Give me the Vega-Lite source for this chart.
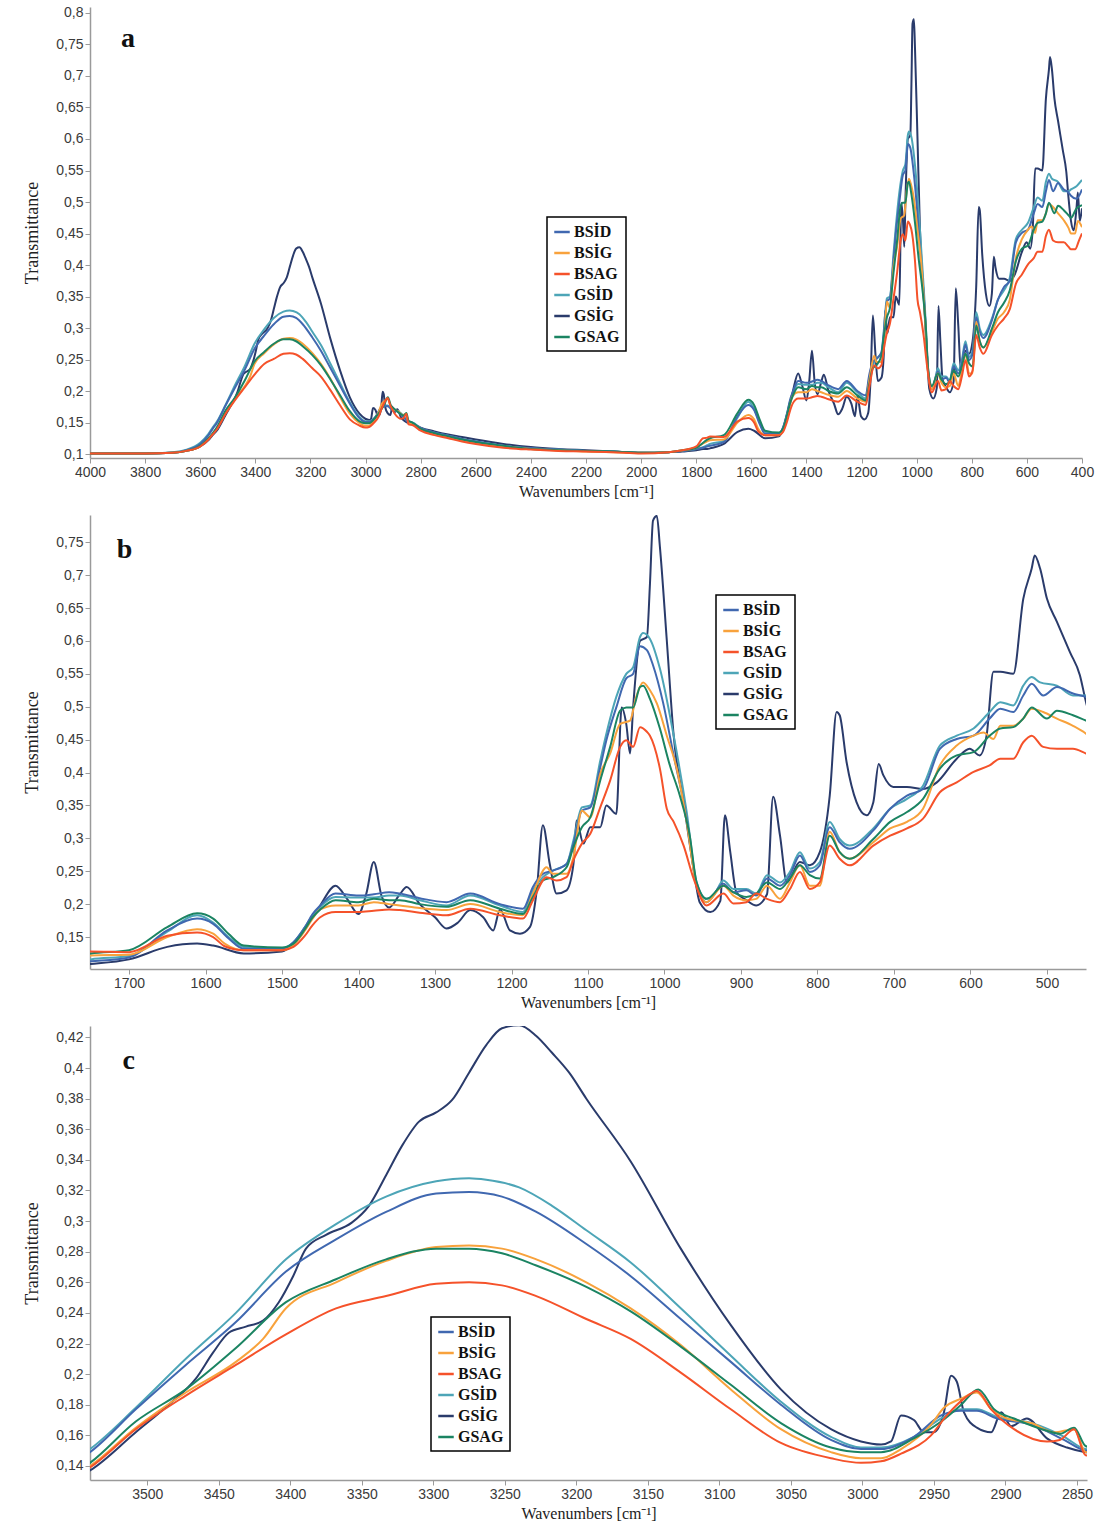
{
"$schema":"https://vega.github.io/schema/vega-lite/v6.json",
"padding":{"left":23,"top":5,"right":8,"bottom":4},
"spacing":16,
"config":{"view":{"stroke":null},
"axis":{"domainColor":"#9a9a9a","domainWidth":1.5,"tickColor":"#9a9a9a","tickSize":5,"labelFont":"Liberation Sans","labelFontSize":14,"labelColor":"#3a3a3a","labelPadding":2,"labelOverlap":false,"labelFlush":false,"titleFont":"Liberation Serif","titleFontWeight":"normal","titleColor":"#222","grid":false},
"axisX":{"titleFontSize":16,"titlePadding":4},
"axisY":{"titleFontSize":18,"titlePadding":14},
"legend":{"strokeColor":"#000","strokeWidth":1.5,"fillColor":"#fff","padding":6,"symbolType":"stroke","symbolStrokeWidth":2.5,"symbolSize":240,"labelFont":"Liberation Serif","labelFontWeight":"bold","labelFontSize":16,"labelColor":"#111","rowPadding":4,"labelOffset":3}},
"datasets":{"spectra":[
{"s":"GSİG","w":4000,"t":0.101},{"s":"GSİG","w":3900,"t":0.101},{"s":"GSİG","w":3800,"t":0.101},{"s":"GSİG","w":3700,"t":0.102},{"s":"GSİG","w":3650,"t":0.105},{"s":"GSİG","w":3600,"t":0.112},{"s":"GSİG","w":3570,"t":0.122},{"s":"GSİG","w":3555,"t":0.130},{"s":"GSİG","w":3540,"t":0.137},{"s":"GSİG","w":3508,"t":0.162},{"s":"GSİG","w":3485,"t":0.180},{"s":"GSİG","w":3466,"t":0.197},{"s":"GSİG","w":3454,"t":0.214},{"s":"GSİG","w":3443,"t":0.227},{"s":"GSİG","w":3431,"t":0.231},{"s":"GSİG","w":3419,"t":0.235},{"s":"GSİG","w":3408,"t":0.247},{"s":"GSİG","w":3398,"t":0.264},{"s":"GSİG","w":3389,"t":0.282},{"s":"GSİG","w":3375,"t":0.291},{"s":"GSİG","w":3357,"t":0.299},{"s":"GSİG","w":3345,"t":0.310},{"s":"GSİG","w":3333,"t":0.330},{"s":"GSİG","w":3322,"t":0.349},{"s":"GSİG","w":3310,"t":0.365},{"s":"GSİG","w":3298,"t":0.371},{"s":"GSİG","w":3287,"t":0.379},{"s":"GSİG","w":3275,"t":0.397},{"s":"GSİG","w":3263,"t":0.415},{"s":"GSİG","w":3252,"t":0.426},{"s":"GSİG","w":3240,"t":0.428},{"s":"GSİG","w":3228,"t":0.421},{"s":"GSİG","w":3217,"t":0.410},{"s":"GSİG","w":3205,"t":0.397},{"s":"GSİG","w":3193,"t":0.380},{"s":"GSİG","w":3162,"t":0.339},{"s":"GSİG","w":3127,"t":0.282},{"s":"GSİG","w":3092,"t":0.232},{"s":"GSİG","w":3057,"t":0.190},{"s":"GSİG","w":3022,"t":0.164},{"s":"GSİG","w":3001,"t":0.156},{"s":"GSİG","w":2987,"t":0.154},{"s":"GSİG","w":2980,"t":0.156},{"s":"GSİG","w":2973,"t":0.173},{"s":"GSİG","w":2964,"t":0.170},{"s":"GSİG","w":2957,"t":0.162},{"s":"GSİG","w":2950,"t":0.162},{"s":"GSİG","w":2943,"t":0.175},{"s":"GSİG","w":2938,"t":0.199},{"s":"GSİG","w":2934,"t":0.195},{"s":"GSİG","w":2929,"t":0.175},{"s":"GSİG","w":2920,"t":0.165},{"s":"GSİG","w":2910,"t":0.162},{"s":"GSİG","w":2903,"t":0.175},{"s":"GSİG","w":2896,"t":0.166},{"s":"GSİG","w":2885,"t":0.171},{"s":"GSİG","w":2871,"t":0.158},{"s":"GSİG","w":2857,"t":0.152},{"s":"GSİG","w":2844,"t":0.149},{"s":"GSİG","w":2830,"t":0.148},{"s":"GSİG","w":2800,"t":0.142},{"s":"GSİG","w":2750,"t":0.136},{"s":"GSİG","w":2700,"t":0.131},{"s":"GSİG","w":2650,"t":0.127},{"s":"GSİG","w":2600,"t":0.123},{"s":"GSİG","w":2500,"t":0.116},{"s":"GSİG","w":2400,"t":0.111},{"s":"GSİG","w":2300,"t":0.108},{"s":"GSİG","w":2200,"t":0.106},{"s":"GSİG","w":2100,"t":0.104},{"s":"GSİG","w":2000,"t":0.102},{"s":"GSİG","w":1900,"t":0.103},{"s":"GSİG","w":1850,"t":0.104},{"s":"GSİG","w":1800,"t":0.106},{"s":"GSİG","w":1775,"t":0.108},{"s":"GSİG","w":1760,"t":0.108},
{"s":"GSİG","w":1750,"t":0.109},{"s":"GSİG","w":1700,"t":0.116},{"s":"GSİG","w":1650,"t":0.135},{"s":"GSİG","w":1611,"t":0.140},{"s":"GSİG","w":1590,"t":0.137},{"s":"GSİG","w":1550,"t":0.125},{"s":"GSİG","w":1500,"t":0.128},{"s":"GSİG","w":1485,"t":0.140},{"s":"GSİG","w":1470,"t":0.163},{"s":"GSİG","w":1460,"t":0.180},{"s":"GSİG","w":1450,"t":0.198},{"s":"GSİG","w":1430,"t":0.228},{"s":"GSİG","w":1415,"t":0.208},{"s":"GSİG","w":1400,"t":0.185},{"s":"GSİG","w":1390,"t":0.215},{"s":"GSİG","w":1380,"t":0.264},{"s":"GSİG","w":1370,"t":0.213},{"s":"GSİG","w":1360,"t":0.195},{"s":"GSİG","w":1346,"t":0.215},{"s":"GSİG","w":1337,"t":0.226},{"s":"GSİG","w":1320,"t":0.200},{"s":"GSİG","w":1300,"t":0.180},{"s":"GSİG","w":1285,"t":0.163},{"s":"GSİG","w":1270,"t":0.172},{"s":"GSİG","w":1254,"t":0.191},{"s":"GSİG","w":1237,"t":0.180},{"s":"GSİG","w":1224,"t":0.160},{"s":"GSİG","w":1215,"t":0.192},{"s":"GSİG","w":1202,"t":0.160},{"s":"GSİG","w":1189,"t":0.155},{"s":"GSİG","w":1176,"t":0.165},{"s":"GSİG","w":1167,"t":0.221},{"s":"GSİG","w":1159,"t":0.320},{"s":"GSİG","w":1150,"t":0.261},{"s":"GSİG","w":1141,"t":0.216},{"s":"GSİG","w":1128,"t":0.221},{"s":"GSİG","w":1119,"t":0.261},{"s":"GSİG","w":1115,"t":0.327},{"s":"GSİG","w":1106,"t":0.292},{"s":"GSİG","w":1097,"t":0.317},{"s":"GSİG","w":1084,"t":0.317},{"s":"GSİG","w":1076,"t":0.350},{"s":"GSİG","w":1063,"t":0.337},{"s":"GSİG","w":1056,"t":0.499},{"s":"GSİG","w":1050,"t":0.474},{"s":"GSİG","w":1045,"t":0.429},{"s":"GSİG","w":1041,"t":0.499},{"s":"GSİG","w":1032,"t":0.600},{"s":"GSİG","w":1023,"t":0.606},{"s":"GSİG","w":1019,"t":0.687},{"s":"GSİG","w":1015,"t":0.783},{"s":"GSİG","w":1010,"t":0.790},{"s":"GSİG","w":1006,"t":0.743},{"s":"GSİG","w":997,"t":0.601},{"s":"GSİG","w":988,"t":0.456},{"s":"GSİG","w":975,"t":0.355},{"s":"GSİG","w":962,"t":0.254},{"s":"GSİG","w":954,"t":0.203},{"s":"GSİG","w":940,"t":0.188},{"s":"GSİG","w":927,"t":0.205},{"s":"GSİG","w":921,"t":0.335},{"s":"GSİG","w":914,"t":0.279},{"s":"GSİG","w":906,"t":0.218},{"s":"GSİG","w":893,"t":0.206},{"s":"GSİG","w":880,"t":0.198},{"s":"GSİG","w":866,"t":0.215},{"s":"GSİG","w":858,"t":0.363},{"s":"GSİG","w":849,"t":0.304},{"s":"GSİG","w":840,"t":0.233},{"s":"GSİG","w":823,"t":0.264},{"s":"GSİG","w":810,"t":0.259},{"s":"GSİG","w":797,"t":0.279},{"s":"GSİG","w":784,"t":0.365},{"s":"GSİG","w":775,"t":0.492},{"s":"GSİG","w":771,"t":0.487},{"s":"GSİG","w":762,"t":0.416},{"s":"GSİG","w":749,"t":0.355},{"s":"GSİG","w":736,"t":0.335},{"s":"GSİG","w":727,"t":0.355},{"s":"GSİG","w":720,"t":0.413},{"s":"GSİG","w":714,"t":0.396},{"s":"GSİG","w":701,"t":0.378},{"s":"GSİG","w":683,"t":0.378},{"s":"GSİG","w":662,"t":0.375},{"s":"GSİG","w":644,"t":0.385},{"s":"GSİG","w":618,"t":0.421},{"s":"GSİG","w":601,"t":0.436},{"s":"GSİG","w":588,"t":0.426},{"s":"GSİG","w":579,"t":0.456},{"s":"GSİG","w":570,"t":0.553},{"s":"GSİG","w":561,"t":0.553},{"s":"GSİG","w":544,"t":0.550},{"s":"GSİG","w":531,"t":0.664},{"s":"GSİG","w":520,"t":0.710},{"s":"GSİG","w":516,"t":0.730},{"s":"GSİG","w":509,"t":0.710},{"s":"GSİG","w":500,"t":0.664},{"s":"GSİG","w":487,"t":0.629},{"s":"GSİG","w":470,"t":0.583},{"s":"GSİG","w":457,"t":0.548},{"s":"GSİG","w":449,"t":0.507},{"s":"GSİG","w":440,"t":0.470},{"s":"GSİG","w":430,"t":0.455},{"s":"GSİG","w":420,"t":0.490},{"s":"GSİG","w":415,"t":0.515},{"s":"GSİG","w":408,"t":0.470},{"s":"GSİG","w":400,"t":0.490},

{"s":"GSİD","w":4000,"t":0.101},{"s":"GSİD","w":3900,"t":0.101},{"s":"GSİD","w":3800,"t":0.101},{"s":"GSİD","w":3700,"t":0.103},{"s":"GSİD","w":3650,"t":0.107},{"s":"GSİD","w":3600,"t":0.118},{"s":"GSİD","w":3570,"t":0.132},{"s":"GSİD","w":3555,"t":0.142},{"s":"GSİD","w":3540,"t":0.151},{"s":"GSİD","w":3508,"t":0.178},{"s":"GSİD","w":3473,"t":0.210},{"s":"GSİD","w":3438,"t":0.240},{"s":"GSİD","w":3403,"t":0.275},{"s":"GSİD","w":3368,"t":0.298},{"s":"GSİD","w":3333,"t":0.316},{"s":"GSİD","w":3298,"t":0.326},{"s":"GSİD","w":3275,"t":0.328},{"s":"GSİD","w":3263,"t":0.327},{"s":"GSİD","w":3240,"t":0.322},{"s":"GSİD","w":3217,"t":0.310},{"s":"GSİD","w":3193,"t":0.294},{"s":"GSİD","w":3162,"t":0.273},{"s":"GSİD","w":3127,"t":0.243},{"s":"GSİD","w":3092,"t":0.212},{"s":"GSİD","w":3057,"t":0.182},{"s":"GSİD","w":3022,"t":0.159},{"s":"GSİD","w":3001,"t":0.152},{"s":"GSİD","w":2987,"t":0.152},{"s":"GSİD","w":2964,"t":0.159},{"s":"GSİD","w":2945,"t":0.171},{"s":"GSİD","w":2931,"t":0.177},{"s":"GSİD","w":2920,"t":0.177},{"s":"GSİD","w":2906,"t":0.172},{"s":"GSİD","w":2882,"t":0.168},{"s":"GSİD","w":2859,"t":0.159},{"s":"GSİD","w":2844,"t":0.151},{"s":"GSİD","w":2830,"t":0.150},{"s":"GSİD","w":2800,"t":0.141},{"s":"GSİD","w":2750,"t":0.134},{"s":"GSİD","w":2700,"t":0.129},{"s":"GSİD","w":2650,"t":0.124},{"s":"GSİD","w":2600,"t":0.120},{"s":"GSİD","w":2500,"t":0.113},{"s":"GSİD","w":2400,"t":0.109},{"s":"GSİD","w":2300,"t":0.107},{"s":"GSİD","w":2200,"t":0.105},{"s":"GSİD","w":2100,"t":0.104},{"s":"GSİD","w":2000,"t":0.102},{"s":"GSİD","w":1900,"t":0.103},{"s":"GSİD","w":1850,"t":0.105},{"s":"GSİD","w":1800,"t":0.108},{"s":"GSİD","w":1775,"t":0.111},{"s":"GSİD","w":1760,"t":0.114},
{"s":"GSİD","w":1750,"t":0.116},{"s":"GSİD","w":1700,"t":0.121},{"s":"GSİD","w":1650,"t":0.158},{"s":"GSİD","w":1611,"t":0.183},{"s":"GSİD","w":1590,"t":0.172},{"s":"GSİD","w":1570,"t":0.150},{"s":"GSİD","w":1550,"t":0.135},{"s":"GSİD","w":1500,"t":0.133},{"s":"GSİD","w":1485,"t":0.142},{"s":"GSİD","w":1470,"t":0.165},{"s":"GSİD","w":1460,"t":0.183},{"s":"GSİD","w":1450,"t":0.196},{"s":"GSİD","w":1430,"t":0.211},{"s":"GSİD","w":1400,"t":0.210},{"s":"GSİD","w":1380,"t":0.210},{"s":"GSİD","w":1360,"t":0.213},{"s":"GSİD","w":1346,"t":0.213},{"s":"GSİD","w":1320,"t":0.206},{"s":"GSİD","w":1285,"t":0.198},{"s":"GSİD","w":1254,"t":0.213},{"s":"GSİD","w":1215,"t":0.198},{"s":"GSİD","w":1185,"t":0.188},{"s":"GSİD","w":1172,"t":0.221},{"s":"GSİD","w":1159,"t":0.241},{"s":"GSİD","w":1146,"t":0.251},{"s":"GSİD","w":1128,"t":0.261},{"s":"GSİD","w":1119,"t":0.297},{"s":"GSİD","w":1108,"t":0.347},{"s":"GSİD","w":1097,"t":0.350},{"s":"GSİD","w":1084,"t":0.418},{"s":"GSİD","w":1076,"t":0.459},{"s":"GSİD","w":1063,"t":0.515},{"s":"GSİD","w":1050,"t":0.550},{"s":"GSİD","w":1041,"t":0.560},{"s":"GSİD","w":1032,"t":0.606},{"s":"GSİD","w":1028,"t":0.612},{"s":"GSİD","w":1019,"t":0.603},{"s":"GSİD","w":1006,"t":0.558},{"s":"GSİD","w":988,"t":0.456},{"s":"GSİD","w":971,"t":0.340},{"s":"GSİD","w":958,"t":0.233},{"s":"GSİD","w":945,"t":0.208},{"s":"GSİD","w":936,"t":0.213},{"s":"GSİD","w":923,"t":0.236},{"s":"GSİD","w":910,"t":0.223},{"s":"GSİD","w":893,"t":0.223},{"s":"GSİD","w":880,"t":0.216},{"s":"GSİD","w":866,"t":0.244},{"s":"GSİD","w":849,"t":0.233},{"s":"GSİD","w":836,"t":0.249},{"s":"GSİD","w":823,"t":0.279},{"s":"GSİD","w":810,"t":0.254},{"s":"GSİD","w":797,"t":0.264},{"s":"GSİD","w":784,"t":0.325},{"s":"GSİD","w":771,"t":0.299},{"s":"GSİD","w":758,"t":0.289},{"s":"GSİD","w":727,"t":0.315},{"s":"GSİD","w":705,"t":0.345},{"s":"GSİD","w":683,"t":0.360},{"s":"GSİD","w":662,"t":0.380},{"s":"GSİD","w":640,"t":0.441},{"s":"GSİD","w":618,"t":0.456},{"s":"GSİD","w":596,"t":0.467},{"s":"GSİD","w":575,"t":0.492},{"s":"GSİD","w":561,"t":0.507},{"s":"GSİD","w":544,"t":0.502},{"s":"GSİD","w":531,"t":0.532},{"s":"GSİD","w":520,"t":0.545},{"s":"GSİD","w":509,"t":0.537},{"s":"GSİD","w":487,"t":0.532},{"s":"GSİD","w":466,"t":0.517},{"s":"GSİD","w":449,"t":0.517},{"s":"GSİD","w":440,"t":0.520},{"s":"GSİD","w":420,"t":0.525},{"s":"GSİD","w":400,"t":0.535},

{"s":"BSİD","w":4000,"t":0.101},{"s":"BSİD","w":3900,"t":0.101},{"s":"BSİD","w":3800,"t":0.101},{"s":"BSİD","w":3700,"t":0.102},{"s":"BSİD","w":3650,"t":0.106},{"s":"BSİD","w":3600,"t":0.116},{"s":"BSİD","w":3570,"t":0.130},{"s":"BSİD","w":3555,"t":0.140},{"s":"BSİD","w":3540,"t":0.149},{"s":"BSİD","w":3508,"t":0.177},{"s":"BSİD","w":3473,"t":0.206},{"s":"BSİD","w":3438,"t":0.234},{"s":"BSİD","w":3403,"t":0.267},{"s":"BSİD","w":3368,"t":0.288},{"s":"BSİD","w":3333,"t":0.306},{"s":"BSİD","w":3298,"t":0.318},{"s":"BSİD","w":3275,"t":0.319},{"s":"BSİD","w":3252,"t":0.316},{"s":"BSİD","w":3228,"t":0.306},{"s":"BSİD","w":3193,"t":0.285},{"s":"BSİD","w":3162,"t":0.264},{"s":"BSİD","w":3127,"t":0.236},{"s":"BSİD","w":3092,"t":0.208},{"s":"BSİD","w":3057,"t":0.180},{"s":"BSİD","w":3022,"t":0.157},{"s":"BSİD","w":3001,"t":0.151},{"s":"BSİD","w":2987,"t":0.151},{"s":"BSİD","w":2964,"t":0.159},{"s":"BSİD","w":2945,"t":0.173},{"s":"BSİD","w":2931,"t":0.176},{"s":"BSİD","w":2920,"t":0.176},{"s":"BSİD","w":2906,"t":0.171},{"s":"BSİD","w":2882,"t":0.167},{"s":"BSİD","w":2859,"t":0.157},{"s":"BSİD","w":2844,"t":0.150},{"s":"BSİD","w":2830,"t":0.149},{"s":"BSİD","w":2800,"t":0.141},{"s":"BSİD","w":2750,"t":0.134},{"s":"BSİD","w":2700,"t":0.129},{"s":"BSİD","w":2650,"t":0.124},{"s":"BSİD","w":2600,"t":0.120},{"s":"BSİD","w":2500,"t":0.113},{"s":"BSİD","w":2400,"t":0.109},{"s":"BSİD","w":2300,"t":0.107},{"s":"BSİD","w":2200,"t":0.105},{"s":"BSİD","w":2100,"t":0.104},{"s":"BSİD","w":2000,"t":0.102},{"s":"BSİD","w":1900,"t":0.103},{"s":"BSİD","w":1850,"t":0.105},{"s":"BSİD","w":1800,"t":0.108},{"s":"BSİD","w":1775,"t":0.110},{"s":"BSİD","w":1760,"t":0.112},
{"s":"BSİD","w":1750,"t":0.113},{"s":"BSİD","w":1700,"t":0.119},{"s":"BSİD","w":1650,"t":0.160},{"s":"BSİD","w":1611,"t":0.178},{"s":"BSİD","w":1590,"t":0.170},{"s":"BSİD","w":1570,"t":0.148},{"s":"BSİD","w":1550,"t":0.132},{"s":"BSİD","w":1500,"t":0.132},{"s":"BSİD","w":1485,"t":0.142},{"s":"BSİD","w":1470,"t":0.165},{"s":"BSİD","w":1460,"t":0.185},{"s":"BSİD","w":1450,"t":0.198},{"s":"BSİD","w":1430,"t":0.216},{"s":"BSİD","w":1400,"t":0.213},{"s":"BSİD","w":1380,"t":0.215},{"s":"BSİD","w":1360,"t":0.218},{"s":"BSİD","w":1346,"t":0.216},{"s":"BSİD","w":1320,"t":0.209},{"s":"BSİD","w":1285,"t":0.203},{"s":"BSİD","w":1254,"t":0.216},{"s":"BSİD","w":1215,"t":0.200},{"s":"BSİD","w":1185,"t":0.193},{"s":"BSİD","w":1172,"t":0.226},{"s":"BSİD","w":1159,"t":0.246},{"s":"BSİD","w":1146,"t":0.251},{"s":"BSİD","w":1128,"t":0.261},{"s":"BSİD","w":1119,"t":0.292},{"s":"BSİD","w":1108,"t":0.342},{"s":"BSİD","w":1097,"t":0.347},{"s":"BSİD","w":1084,"t":0.408},{"s":"BSİD","w":1076,"t":0.449},{"s":"BSİD","w":1063,"t":0.499},{"s":"BSİD","w":1050,"t":0.543},{"s":"BSİD","w":1041,"t":0.550},{"s":"BSİD","w":1032,"t":0.592},{"s":"BSİD","w":1023,"t":0.586},{"s":"BSİD","w":1015,"t":0.563},{"s":"BSİD","w":1002,"t":0.507},{"s":"BSİD","w":988,"t":0.426},{"s":"BSİD","w":971,"t":0.330},{"s":"BSİD","w":958,"t":0.228},{"s":"BSİD","w":945,"t":0.203},{"s":"BSİD","w":923,"t":0.231},{"s":"BSİD","w":910,"t":0.218},{"s":"BSİD","w":893,"t":0.221},{"s":"BSİD","w":880,"t":0.213},{"s":"BSİD","w":866,"t":0.239},{"s":"BSİD","w":849,"t":0.228},{"s":"BSİD","w":836,"t":0.244},{"s":"BSİD","w":823,"t":0.274},{"s":"BSİD","w":810,"t":0.249},{"s":"BSİD","w":797,"t":0.259},{"s":"BSİD","w":784,"t":0.317},{"s":"BSİD","w":771,"t":0.294},{"s":"BSİD","w":758,"t":0.284},{"s":"BSİD","w":727,"t":0.312},{"s":"BSİD","w":705,"t":0.345},{"s":"BSİD","w":683,"t":0.365},{"s":"BSİD","w":662,"t":0.375},{"s":"BSİD","w":640,"t":0.436},{"s":"BSİD","w":618,"t":0.451},{"s":"BSİD","w":596,"t":0.456},{"s":"BSİD","w":575,"t":0.482},{"s":"BSİD","w":561,"t":0.497},{"s":"BSİD","w":544,"t":0.492},{"s":"BSİD","w":531,"t":0.517},{"s":"BSİD","w":520,"t":0.535},{"s":"BSİD","w":505,"t":0.517},{"s":"BSİD","w":487,"t":0.530},{"s":"BSİD","w":466,"t":0.520},{"s":"BSİD","w":449,"t":0.515},{"s":"BSİD","w":440,"t":0.510},{"s":"BSİD","w":420,"t":0.505},{"s":"BSİD","w":400,"t":0.520},

{"s":"BSİG","w":4000,"t":0.101},{"s":"BSİG","w":3900,"t":0.101},{"s":"BSİG","w":3800,"t":0.101},{"s":"BSİG","w":3700,"t":0.102},{"s":"BSİG","w":3650,"t":0.105},{"s":"BSİG","w":3600,"t":0.112},{"s":"BSİG","w":3570,"t":0.124},{"s":"BSİG","w":3555,"t":0.132},{"s":"BSİG","w":3540,"t":0.140},{"s":"BSİG","w":3508,"t":0.165},{"s":"BSİG","w":3473,"t":0.188},{"s":"BSİG","w":3438,"t":0.208},{"s":"BSİG","w":3419,"t":0.223},{"s":"BSİG","w":3403,"t":0.243},{"s":"BSİG","w":3368,"t":0.260},{"s":"BSİG","w":3333,"t":0.274},{"s":"BSİG","w":3298,"t":0.283},{"s":"BSİG","w":3275,"t":0.284},{"s":"BSİG","w":3252,"t":0.282},{"s":"BSİG","w":3228,"t":0.275},{"s":"BSİG","w":3193,"t":0.260},{"s":"BSİG","w":3162,"t":0.243},{"s":"BSİG","w":3127,"t":0.219},{"s":"BSİG","w":3092,"t":0.190},{"s":"BSİG","w":3057,"t":0.164},{"s":"BSİG","w":3022,"t":0.149},{"s":"BSİG","w":3001,"t":0.145},{"s":"BSİG","w":2987,"t":0.145},{"s":"BSİG","w":2973,"t":0.151},{"s":"BSİG","w":2952,"t":0.167},{"s":"BSİG","w":2943,"t":0.178},{"s":"BSİG","w":2931,"t":0.184},{"s":"BSİG","w":2920,"t":0.188},{"s":"BSİG","w":2910,"t":0.177},{"s":"BSİG","w":2899,"t":0.171},{"s":"BSİG","w":2882,"t":0.168},{"s":"BSİG","w":2866,"t":0.162},{"s":"BSİG","w":2852,"t":0.164},{"s":"BSİG","w":2844,"t":0.149},{"s":"BSİG","w":2830,"t":0.148},{"s":"BSİG","w":2800,"t":0.139},{"s":"BSİG","w":2750,"t":0.132},{"s":"BSİG","w":2700,"t":0.127},{"s":"BSİG","w":2650,"t":0.122},{"s":"BSİG","w":2600,"t":0.118},{"s":"BSİG","w":2500,"t":0.112},{"s":"BSİG","w":2400,"t":0.108},{"s":"BSİG","w":2300,"t":0.106},{"s":"BSİG","w":2200,"t":0.104},{"s":"BSİG","w":2100,"t":0.103},{"s":"BSİG","w":2000,"t":0.102},{"s":"BSİG","w":1900,"t":0.103},{"s":"BSİG","w":1850,"t":0.106},{"s":"BSİG","w":1800,"t":0.110},{"s":"BSİG","w":1775,"t":0.117},{"s":"BSİG","w":1760,"t":0.120},
{"s":"BSİG","w":1750,"t":0.122},{"s":"BSİG","w":1700,"t":0.123},{"s":"BSİG","w":1650,"t":0.150},{"s":"BSİG","w":1611,"t":0.162},{"s":"BSİG","w":1590,"t":0.155},{"s":"BSİG","w":1575,"t":0.140},{"s":"BSİG","w":1550,"t":0.130},{"s":"BSİG","w":1500,"t":0.130},{"s":"BSİG","w":1485,"t":0.138},{"s":"BSİG","w":1470,"t":0.160},{"s":"BSİG","w":1460,"t":0.178},{"s":"BSİG","w":1450,"t":0.192},{"s":"BSİG","w":1430,"t":0.198},{"s":"BSİG","w":1400,"t":0.198},{"s":"BSİG","w":1380,"t":0.203},{"s":"BSİG","w":1360,"t":0.200},{"s":"BSİG","w":1346,"t":0.198},{"s":"BSİG","w":1320,"t":0.194},{"s":"BSİG","w":1285,"t":0.191},{"s":"BSİG","w":1254,"t":0.200},{"s":"BSİG","w":1215,"t":0.188},{"s":"BSİG","w":1185,"t":0.183},{"s":"BSİG","w":1172,"t":0.216},{"s":"BSİG","w":1154,"t":0.256},{"s":"BSİG","w":1146,"t":0.246},{"s":"BSİG","w":1128,"t":0.246},{"s":"BSİG","w":1119,"t":0.272},{"s":"BSİG","w":1108,"t":0.342},{"s":"BSİG","w":1097,"t":0.332},{"s":"BSİG","w":1084,"t":0.398},{"s":"BSİG","w":1071,"t":0.429},{"s":"BSİG","w":1058,"t":0.474},{"s":"BSİG","w":1045,"t":0.479},{"s":"BSİG","w":1037,"t":0.515},{"s":"BSİG","w":1028,"t":0.537},{"s":"BSİG","w":1019,"t":0.525},{"s":"BSİG","w":1010,"t":0.505},{"s":"BSİG","w":997,"t":0.456},{"s":"BSİG","w":984,"t":0.406},{"s":"BSİG","w":971,"t":0.325},{"s":"BSİG","w":958,"t":0.228},{"s":"BSİG","w":945,"t":0.203},{"s":"BSİG","w":923,"t":0.228},{"s":"BSİG","w":910,"t":0.213},{"s":"BSİG","w":893,"t":0.206},{"s":"BSİG","w":880,"t":0.208},{"s":"BSİG","w":866,"t":0.228},{"s":"BSİG","w":849,"t":0.208},{"s":"BSİG","w":836,"t":0.233},{"s":"BSİG","w":823,"t":0.259},{"s":"BSİG","w":810,"t":0.228},{"s":"BSİG","w":797,"t":0.228},{"s":"BSİG","w":784,"t":0.310},{"s":"BSİG","w":771,"t":0.279},{"s":"BSİG","w":758,"t":0.269},{"s":"BSİG","w":727,"t":0.294},{"s":"BSİG","w":705,"t":0.315},{"s":"BSİG","w":683,"t":0.325},{"s":"BSİG","w":662,"t":0.345},{"s":"BSİG","w":640,"t":0.411},{"s":"BSİG","w":618,"t":0.441},{"s":"BSİG","w":596,"t":0.456},{"s":"BSİG","w":583,"t":0.461},{"s":"BSİG","w":570,"t":0.451},{"s":"BSİG","w":561,"t":0.471},{"s":"BSİG","w":544,"t":0.471},{"s":"BSİG","w":531,"t":0.482},{"s":"BSİG","w":520,"t":0.497},{"s":"BSİG","w":505,"t":0.492},{"s":"BSİG","w":487,"t":0.482},{"s":"BSİG","w":466,"t":0.471},{"s":"BSİG","w":449,"t":0.459},{"s":"BSİG","w":440,"t":0.450},{"s":"BSİG","w":425,"t":0.450},{"s":"BSİG","w":415,"t":0.470},{"s":"BSİG","w":400,"t":0.460},

{"s":"GSAG","w":4000,"t":0.101},{"s":"GSAG","w":3900,"t":0.101},{"s":"GSAG","w":3800,"t":0.101},{"s":"GSAG","w":3700,"t":0.102},{"s":"GSAG","w":3650,"t":0.105},{"s":"GSAG","w":3600,"t":0.113},{"s":"GSAG","w":3570,"t":0.125},{"s":"GSAG","w":3555,"t":0.133},{"s":"GSAG","w":3540,"t":0.142},{"s":"GSAG","w":3508,"t":0.169},{"s":"GSAG","w":3473,"t":0.190},{"s":"GSAG","w":3438,"t":0.217},{"s":"GSAG","w":3403,"t":0.247},{"s":"GSAG","w":3368,"t":0.262},{"s":"GSAG","w":3333,"t":0.275},{"s":"GSAG","w":3298,"t":0.282},{"s":"GSAG","w":3275,"t":0.282},{"s":"GSAG","w":3252,"t":0.279},{"s":"GSAG","w":3228,"t":0.271},{"s":"GSAG","w":3193,"t":0.257},{"s":"GSAG","w":3162,"t":0.241},{"s":"GSAG","w":3127,"t":0.218},{"s":"GSAG","w":3092,"t":0.193},{"s":"GSAG","w":3057,"t":0.168},{"s":"GSAG","w":3022,"t":0.152},{"s":"GSAG","w":3001,"t":0.149},{"s":"GSAG","w":2987,"t":0.149},{"s":"GSAG","w":2964,"t":0.158},{"s":"GSAG","w":2945,"t":0.169},{"s":"GSAG","w":2931,"t":0.180},{"s":"GSAG","w":2919,"t":0.190},{"s":"GSAG","w":2908,"t":0.177},{"s":"GSAG","w":2894,"t":0.171},{"s":"GSAG","w":2871,"t":0.163},{"s":"GSAG","w":2862,"t":0.161},{"s":"GSAG","w":2852,"t":0.165},{"s":"GSAG","w":2844,"t":0.153},{"s":"GSAG","w":2830,"t":0.150},{"s":"GSAG","w":2800,"t":0.140},{"s":"GSAG","w":2750,"t":0.133},{"s":"GSAG","w":2700,"t":0.128},{"s":"GSAG","w":2650,"t":0.123},{"s":"GSAG","w":2600,"t":0.119},{"s":"GSAG","w":2500,"t":0.113},{"s":"GSAG","w":2400,"t":0.108},{"s":"GSAG","w":2300,"t":0.106},{"s":"GSAG","w":2200,"t":0.105},{"s":"GSAG","w":2100,"t":0.104},{"s":"GSAG","w":2000,"t":0.102},{"s":"GSAG","w":1900,"t":0.103},{"s":"GSAG","w":1850,"t":0.106},{"s":"GSAG","w":1800,"t":0.110},{"s":"GSAG","w":1775,"t":0.118},{"s":"GSAG","w":1760,"t":0.123},
{"s":"GSAG","w":1750,"t":0.125},{"s":"GSAG","w":1700,"t":0.130},{"s":"GSAG","w":1650,"t":0.165},{"s":"GSAG","w":1611,"t":0.186},{"s":"GSAG","w":1590,"t":0.178},{"s":"GSAG","w":1570,"t":0.155},{"s":"GSAG","w":1550,"t":0.137},{"s":"GSAG","w":1500,"t":0.134},{"s":"GSAG","w":1485,"t":0.140},{"s":"GSAG","w":1470,"t":0.162},{"s":"GSAG","w":1460,"t":0.180},{"s":"GSAG","w":1450,"t":0.192},{"s":"GSAG","w":1430,"t":0.206},{"s":"GSAG","w":1400,"t":0.203},{"s":"GSAG","w":1380,"t":0.208},{"s":"GSAG","w":1360,"t":0.206},{"s":"GSAG","w":1346,"t":0.206},{"s":"GSAG","w":1320,"t":0.200},{"s":"GSAG","w":1285,"t":0.196},{"s":"GSAG","w":1254,"t":0.206},{"s":"GSAG","w":1215,"t":0.193},{"s":"GSAG","w":1185,"t":0.185},{"s":"GSAG","w":1172,"t":0.211},{"s":"GSAG","w":1159,"t":0.236},{"s":"GSAG","w":1146,"t":0.241},{"s":"GSAG","w":1128,"t":0.256},{"s":"GSAG","w":1119,"t":0.287},{"s":"GSAG","w":1108,"t":0.317},{"s":"GSAG","w":1097,"t":0.332},{"s":"GSAG","w":1084,"t":0.388},{"s":"GSAG","w":1071,"t":0.439},{"s":"GSAG","w":1058,"t":0.494},{"s":"GSAG","w":1050,"t":0.499},{"s":"GSAG","w":1041,"t":0.499},{"s":"GSAG","w":1032,"t":0.530},{"s":"GSAG","w":1028,"t":0.532},{"s":"GSAG","w":1019,"t":0.512},{"s":"GSAG","w":1006,"t":0.467},{"s":"GSAG","w":993,"t":0.411},{"s":"GSAG","w":980,"t":0.365},{"s":"GSAG","w":967,"t":0.304},{"s":"GSAG","w":958,"t":0.233},{"s":"GSAG","w":945,"t":0.208},{"s":"GSAG","w":923,"t":0.228},{"s":"GSAG","w":910,"t":0.218},{"s":"GSAG","w":893,"t":0.211},{"s":"GSAG","w":880,"t":0.216},{"s":"GSAG","w":866,"t":0.233},{"s":"GSAG","w":849,"t":0.223},{"s":"GSAG","w":836,"t":0.239},{"s":"GSAG","w":823,"t":0.259},{"s":"GSAG","w":810,"t":0.244},{"s":"GSAG","w":797,"t":0.239},{"s":"GSAG","w":784,"t":0.304},{"s":"GSAG","w":771,"t":0.279},{"s":"GSAG","w":758,"t":0.269},{"s":"GSAG","w":727,"t":0.299},{"s":"GSAG","w":705,"t":0.325},{"s":"GSAG","w":683,"t":0.340},{"s":"GSAG","w":662,"t":0.360},{"s":"GSAG","w":640,"t":0.406},{"s":"GSAG","w":618,"t":0.426},{"s":"GSAG","w":596,"t":0.431},{"s":"GSAG","w":575,"t":0.456},{"s":"GSAG","w":561,"t":0.467},{"s":"GSAG","w":544,"t":0.469},{"s":"GSAG","w":531,"t":0.482},{"s":"GSAG","w":520,"t":0.499},{"s":"GSAG","w":500,"t":0.482},{"s":"GSAG","w":487,"t":0.494},{"s":"GSAG","w":466,"t":0.487},{"s":"GSAG","w":449,"t":0.479},{"s":"GSAG","w":440,"t":0.475},{"s":"GSAG","w":420,"t":0.490},{"s":"GSAG","w":400,"t":0.495},

{"s":"BSAG","w":4000,"t":0.101},{"s":"BSAG","w":3900,"t":0.101},{"s":"BSAG","w":3800,"t":0.101},{"s":"BSAG","w":3700,"t":0.102},{"s":"BSAG","w":3650,"t":0.105},{"s":"BSAG","w":3600,"t":0.112},{"s":"BSAG","w":3570,"t":0.123},{"s":"BSAG","w":3555,"t":0.131},{"s":"BSAG","w":3540,"t":0.139},{"s":"BSAG","w":3508,"t":0.164},{"s":"BSAG","w":3473,"t":0.186},{"s":"BSAG","w":3438,"t":0.206},{"s":"BSAG","w":3403,"t":0.226},{"s":"BSAG","w":3368,"t":0.243},{"s":"BSAG","w":3333,"t":0.251},{"s":"BSAG","w":3298,"t":0.259},{"s":"BSAG","w":3275,"t":0.260},{"s":"BSAG","w":3252,"t":0.258},{"s":"BSAG","w":3228,"t":0.251},{"s":"BSAG","w":3193,"t":0.236},{"s":"BSAG","w":3162,"t":0.223},{"s":"BSAG","w":3127,"t":0.201},{"s":"BSAG","w":3092,"t":0.177},{"s":"BSAG","w":3057,"t":0.155},{"s":"BSAG","w":3022,"t":0.145},{"s":"BSAG","w":3001,"t":0.142},{"s":"BSAG","w":2987,"t":0.143},{"s":"BSAG","w":2973,"t":0.148},{"s":"BSAG","w":2952,"t":0.160},{"s":"BSAG","w":2941,"t":0.173},{"s":"BSAG","w":2929,"t":0.184},{"s":"BSAG","w":2920,"t":0.189},{"s":"BSAG","w":2910,"t":0.177},{"s":"BSAG","w":2894,"t":0.164},{"s":"BSAG","w":2871,"t":0.156},{"s":"BSAG","w":2862,"t":0.157},{"s":"BSAG","w":2852,"t":0.164},{"s":"BSAG","w":2844,"t":0.147},{"s":"BSAG","w":2830,"t":0.146},{"s":"BSAG","w":2800,"t":0.137},{"s":"BSAG","w":2750,"t":0.130},{"s":"BSAG","w":2700,"t":0.125},{"s":"BSAG","w":2650,"t":0.120},{"s":"BSAG","w":2600,"t":0.116},{"s":"BSAG","w":2500,"t":0.110},{"s":"BSAG","w":2400,"t":0.107},{"s":"BSAG","w":2300,"t":0.105},{"s":"BSAG","w":2200,"t":0.104},{"s":"BSAG","w":2100,"t":0.103},{"s":"BSAG","w":2000,"t":0.101},{"s":"BSAG","w":1900,"t":0.103},{"s":"BSAG","w":1850,"t":0.106},{"s":"BSAG","w":1800,"t":0.112},{"s":"BSAG","w":1775,"t":0.125},{"s":"BSAG","w":1760,"t":0.126},
{"s":"BSAG","w":1750,"t":0.128},{"s":"BSAG","w":1700,"t":0.127},{"s":"BSAG","w":1650,"t":0.152},{"s":"BSAG","w":1611,"t":0.157},{"s":"BSAG","w":1590,"t":0.150},{"s":"BSAG","w":1575,"t":0.136},{"s":"BSAG","w":1550,"t":0.130},{"s":"BSAG","w":1500,"t":0.130},{"s":"BSAG","w":1485,"t":0.135},{"s":"BSAG","w":1470,"t":0.152},{"s":"BSAG","w":1460,"t":0.168},{"s":"BSAG","w":1450,"t":0.180},{"s":"BSAG","w":1430,"t":0.188},{"s":"BSAG","w":1400,"t":0.188},{"s":"BSAG","w":1380,"t":0.190},{"s":"BSAG","w":1360,"t":0.192},{"s":"BSAG","w":1346,"t":0.191},{"s":"BSAG","w":1320,"t":0.187},{"s":"BSAG","w":1285,"t":0.183},{"s":"BSAG","w":1254,"t":0.193},{"s":"BSAG","w":1215,"t":0.183},{"s":"BSAG","w":1185,"t":0.178},{"s":"BSAG","w":1172,"t":0.206},{"s":"BSAG","w":1154,"t":0.241},{"s":"BSAG","w":1141,"t":0.236},{"s":"BSAG","w":1128,"t":0.241},{"s":"BSAG","w":1119,"t":0.267},{"s":"BSAG","w":1108,"t":0.292},{"s":"BSAG","w":1097,"t":0.307},{"s":"BSAG","w":1084,"t":0.347},{"s":"BSAG","w":1071,"t":0.388},{"s":"BSAG","w":1058,"t":0.439},{"s":"BSAG","w":1050,"t":0.449},{"s":"BSAG","w":1041,"t":0.439},{"s":"BSAG","w":1032,"t":0.469},{"s":"BSAG","w":1023,"t":0.462},{"s":"BSAG","w":1019,"t":0.456},{"s":"BSAG","w":1006,"t":0.406},{"s":"BSAG","w":997,"t":0.345},{"s":"BSAG","w":988,"t":0.325},{"s":"BSAG","w":975,"t":0.289},{"s":"BSAG","w":962,"t":0.239},{"s":"BSAG","w":945,"t":0.198},{"s":"BSAG","w":923,"t":0.216},{"s":"BSAG","w":910,"t":0.201},{"s":"BSAG","w":893,"t":0.203},{"s":"BSAG","w":880,"t":0.216},{"s":"BSAG","w":866,"t":0.208},{"s":"BSAG","w":849,"t":0.203},{"s":"BSAG","w":836,"t":0.223},{"s":"BSAG","w":823,"t":0.249},{"s":"BSAG","w":810,"t":0.223},{"s":"BSAG","w":797,"t":0.233},{"s":"BSAG","w":784,"t":0.289},{"s":"BSAG","w":771,"t":0.269},{"s":"BSAG","w":758,"t":0.259},{"s":"BSAG","w":727,"t":0.289},{"s":"BSAG","w":705,"t":0.304},{"s":"BSAG","w":683,"t":0.315},{"s":"BSAG","w":662,"t":0.330},{"s":"BSAG","w":640,"t":0.370},{"s":"BSAG","w":618,"t":0.385},{"s":"BSAG","w":596,"t":0.401},{"s":"BSAG","w":575,"t":0.411},{"s":"BSAG","w":561,"t":0.421},{"s":"BSAG","w":544,"t":0.421},{"s":"BSAG","w":531,"t":0.446},{"s":"BSAG","w":520,"t":0.456},{"s":"BSAG","w":505,"t":0.439},{"s":"BSAG","w":487,"t":0.436},{"s":"BSAG","w":466,"t":0.436},{"s":"BSAG","w":449,"t":0.429},{"s":"BSAG","w":440,"t":0.425},{"s":"BSAG","w":425,"t":0.425},{"s":"BSAG","w":410,"t":0.440},{"s":"BSAG","w":400,"t":0.450}
]},
"resolve":{"scale":{"x":"independent","y":"independent","color":"independent"},"legend":{"color":"independent"}},
"vconcat":[
{"width":992,"height":451,"data":{"name":"spectra"},
"layer":[
{"mark":{"type":"line","clip":true,"strokeWidth":2,"interpolate":"monotone"},
"encoding":{
"x":{"field":"w","type":"quantitative","scale":{"domain":[4000,400],"nice":false,"zero":false},"axis":{"values":[4000,3800,3600,3400,3200,3000,2800,2600,2400,2200,2000,1800,1600,1400,1200,1000,800,600,400],"format":"d","labelOverlap":false,"labelFlush":false,"title":"Wavenumbers [cm⁻¹]"}},
"y":{"field":"t","type":"quantitative","scale":{"domain":[0.0937,0.8095],"nice":false,"zero":false},"axis":{"values":[0.1,0.15,0.2,0.25,0.3,0.35,0.4,0.45,0.5,0.55,0.6,0.65,0.7,0.75,0.8],"labelOverlap":false,"labelFlush":false,"labelExpr":"replace(format(datum.value,'.2~f'),'.',',')","title":"Transmittance"}},
"color":{"field":"s","type":"nominal","scale":{"domain":["BSİD","BSİG","BSAG","GSİD","GSİG","GSAG"],"range":["#4068b0","#f8a23c","#f5522a","#4da5b7","#2a3b6b","#1b8462"]},"legend":{"orient":"none","legendX":457,"legendY":210,"title":null}}}},
{"data":{"values":[{}]},"mark":{"type":"text","text":"a","font":"Liberation Serif","fontWeight":"bold","fontSize":28,"baseline":"middle","align":"center","color":"#111"},
"encoding":{
"x":{"datum":3862,"type":"quantitative","scale":{"domain":[4000,400],"nice":false,"zero":false},"axis":{"values":[4000,3800,3600,3400,3200,3000,2800,2600,2400,2200,2000,1800,1600,1400,1200,1000,800,600,400],"format":"d","labelOverlap":false,"labelFlush":false,"title":"Wavenumbers [cm⁻¹]"}},
"y":{"datum":0.759,"type":"quantitative","scale":{"domain":[0.0937,0.8095],"nice":false,"zero":false},"axis":{"values":[0.1,0.15,0.2,0.25,0.3,0.35,0.4,0.45,0.5,0.55,0.6,0.65,0.7,0.75,0.8],"labelOverlap":false,"labelFlush":false,"labelExpr":"replace(format(datum.value,'.2~f'),'.',',')","title":"Transmittance"}}}}
]},
{"width":996,"height":454,"data":{"name":"spectra"},
"layer":[
{"mark":{"type":"line","clip":true,"strokeWidth":2,"interpolate":"monotone"},
"encoding":{
"x":{"field":"w","type":"quantitative","scale":{"domain":[1751,449],"nice":false,"zero":false},"axis":{"values":[1700,1600,1500,1400,1300,1200,1100,1000,900,800,700,600,500],"format":"d","labelOverlap":false,"labelFlush":false,"title":"Wavenumbers [cm⁻¹]"}},
"y":{"field":"t","type":"quantitative","scale":{"domain":[0.1014,0.7914],"nice":false,"zero":false},"axis":{"values":[0.15,0.2,0.25,0.3,0.35,0.4,0.45,0.5,0.55,0.6,0.65,0.7,0.75],"labelOverlap":false,"labelFlush":false,"labelExpr":"replace(format(datum.value,'.2~f'),'.',',')","title":"Transmittance"}},
"color":{"field":"s","type":"nominal","scale":{"domain":["BSİD","BSİG","BSAG","GSİD","GSİG","GSAG"],"range":["#4068b0","#f8a23c","#f5522a","#4da5b7","#2a3b6b","#1b8462"]},"legend":{"orient":"none","legendX":626,"legendY":80,"title":null}}}},
{"data":{"values":[{}]},"mark":{"type":"text","text":"b","font":"Liberation Serif","fontWeight":"bold","fontSize":28,"baseline":"middle","align":"center","color":"#111"},
"encoding":{
"x":{"datum":1706,"type":"quantitative","scale":{"domain":[1751,449],"nice":false,"zero":false},"axis":{"values":[1700,1600,1500,1400,1300,1200,1100,1000,900,800,700,600,500],"format":"d","labelOverlap":false,"labelFlush":false,"title":"Wavenumbers [cm⁻¹]"}},
"y":{"datum":0.738,"type":"quantitative","scale":{"domain":[0.1014,0.7914],"nice":false,"zero":false},"axis":{"values":[0.15,0.2,0.25,0.3,0.35,0.4,0.45,0.5,0.55,0.6,0.65,0.7,0.75],"labelOverlap":false,"labelFlush":false,"labelExpr":"replace(format(datum.value,'.2~f'),'.',',')","title":"Transmittance"}}}}
]},
{"width":997,"height":454,"data":{"name":"spectra"},
"layer":[
{"mark":{"type":"line","clip":true,"strokeWidth":2,"interpolate":"monotone"},
"encoding":{
"x":{"field":"w","type":"quantitative","scale":{"domain":[3540,2843],"nice":false,"zero":false},"axis":{"values":[3500,3450,3400,3350,3300,3250,3200,3150,3100,3050,3000,2950,2900,2850],"format":"d","labelOverlap":false,"labelFlush":false,"title":"Wavenumbers [cm⁻¹]"}},
"y":{"field":"t","type":"quantitative","scale":{"domain":[0.1308,0.4275],"nice":false,"zero":false},"axis":{"values":[0.14,0.16,0.18,0.2,0.22,0.24,0.26,0.28,0.3,0.32,0.34,0.36,0.38,0.4,0.42],"labelOverlap":false,"labelFlush":false,"labelExpr":"replace(format(datum.value,'.2~f'),'.',',')","title":"Transmittance"}},
"color":{"field":"s","type":"nominal","scale":{"domain":["BSİD","BSİG","BSAG","GSİD","GSİG","GSAG"],"range":["#4068b0","#f8a23c","#f5522a","#4da5b7","#2a3b6b","#1b8462"]},"legend":{"orient":"none","legendX":341,"legendY":291,"title":null}}}},
{"data":{"values":[{}]},"mark":{"type":"text","text":"c","font":"Liberation Serif","fontWeight":"bold","fontSize":28,"baseline":"middle","align":"center","color":"#111"},
"encoding":{
"x":{"datum":3513,"type":"quantitative","scale":{"domain":[3540,2843],"nice":false,"zero":false},"axis":{"values":[3500,3450,3400,3350,3300,3250,3200,3150,3100,3050,3000,2950,2900,2850],"format":"d","labelOverlap":false,"labelFlush":false,"title":"Wavenumbers [cm⁻¹]"}},
"y":{"datum":0.4047,"type":"quantitative","scale":{"domain":[0.1308,0.4275],"nice":false,"zero":false},"axis":{"values":[0.14,0.16,0.18,0.2,0.22,0.24,0.26,0.28,0.3,0.32,0.34,0.36,0.38,0.4,0.42],"labelOverlap":false,"labelFlush":false,"labelExpr":"replace(format(datum.value,'.2~f'),'.',',')","title":"Transmittance"}}}}
]}
]
}
